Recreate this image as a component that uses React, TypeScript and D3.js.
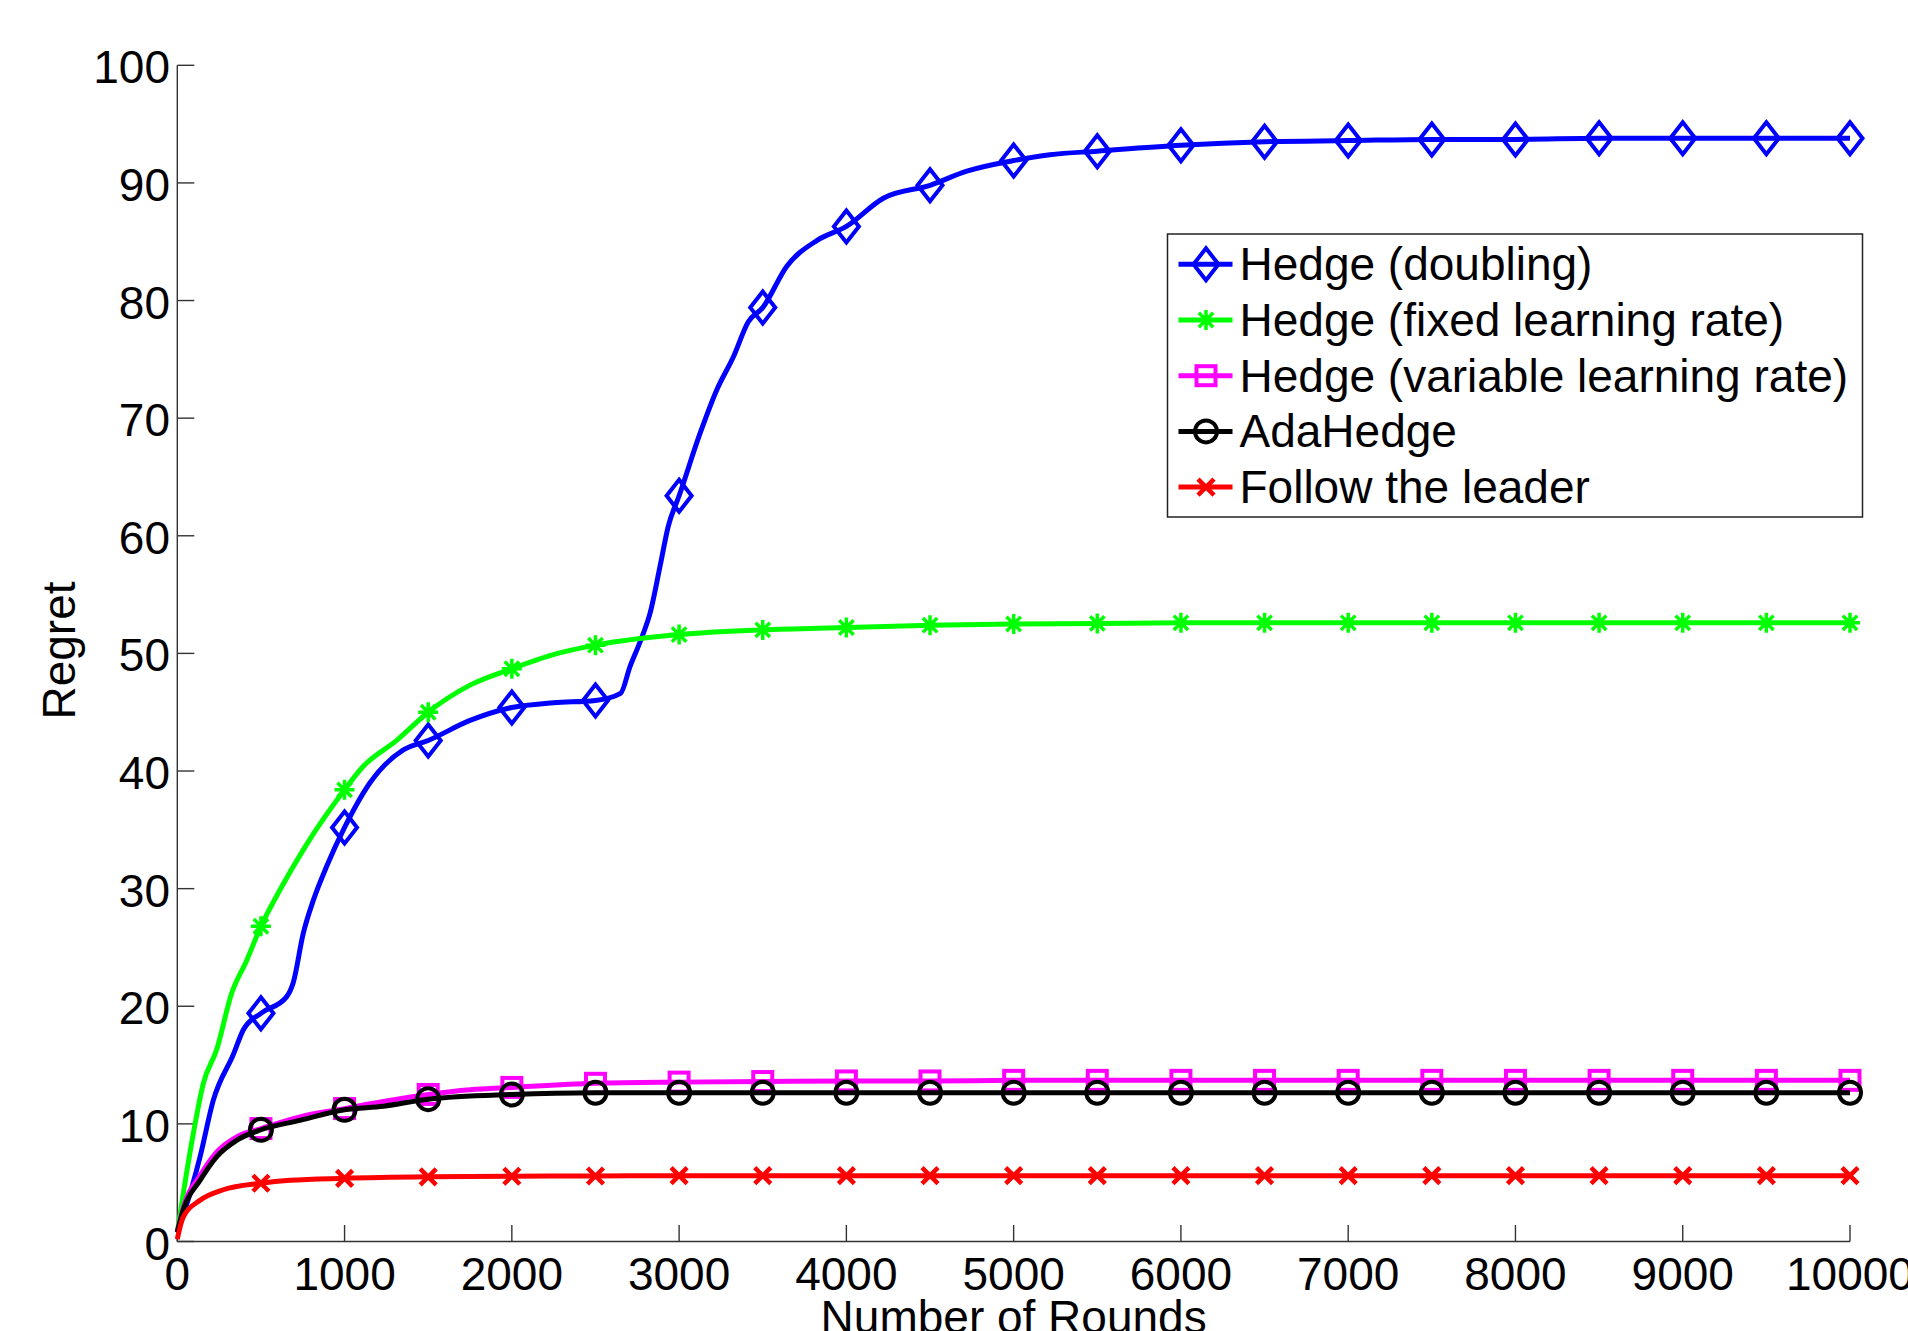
import React from "react";
import * as d3 from "d3";

// regret curves: [round, regret]
const doublingCurve: [number, number][] = [
  [0, 0.8], [46, 2.7], [136, 7.2], [215, 12.0], [335, 15.9], [395, 18.0], [500, 19.4],
  [653, 20.8], [693, 22.0], [753, 26.2], [813, 29.0], [893, 31.9], [1000, 35.2],
  [1152, 39.0], [1351, 41.8], [1500, 42.6], [1750, 44.3], [2000, 45.4], [2250, 45.8],
  [2500, 46.0], [2650, 46.6], [2707, 48.9], [2756, 50.6], [2786, 51.7], [2826, 53.4],
  [2886, 57.4], [2935, 60.8], [3000, 63.4], [3125, 68.7], [3225, 72.4], [3324, 75.2],
  [3414, 78.2], [3500, 79.4], [3643, 82.9], [3823, 85.1], [4000, 86.3], [4221, 88.7],
  [4500, 89.8], [4720, 91.0], [5000, 91.9], [5217, 92.4], [5500, 92.7], [6000, 93.2],
  [6500, 93.5], [7000, 93.6], [7500, 93.7], [8000, 93.7], [8500, 93.8], [9000, 93.8],
  [9500, 93.8], [10000, 93.8],
];
const fixedCurve: [number, number][] = [
  [0, 0.8], [36, 4.1], [96, 9.2], [155, 13.4], [235, 16.3], [325, 21.1], [415, 23.9],
  [500, 26.8], [614, 29.9], [753, 33.3], [1000, 38.4], [1112, 40.4], [1311, 42.6],
  [1500, 45.0], [1750, 47.3], [2000, 48.7], [2248, 49.9], [2500, 50.7], [3000, 51.6],
  [3500, 52.0], [4000, 52.2], [4500, 52.4], [5000, 52.5], [5500, 52.55], [6000, 52.6],
  [6500, 52.6], [7000, 52.6], [7500, 52.6], [8000, 52.6], [8500, 52.6], [9000, 52.6],
  [9500, 52.6], [10000, 52.6],
];
const variableCurve: [number, number][] = [
  [0, 0.8], [36, 2.9], [136, 5.6], [235, 7.6], [355, 8.9], [500, 9.6], [733, 10.6],
  [1000, 11.3], [1232, 11.9], [1500, 12.5], [1750, 12.9], [2000, 13.1], [2500, 13.45],
  [3000, 13.55], [3500, 13.6], [4000, 13.65], [4500, 13.65], [5000, 13.7], [5500, 13.7],
  [6000, 13.7], [6500, 13.7], [7000, 13.7], [7500, 13.7], [8000, 13.7], [8500, 13.7],
  [9000, 13.7], [9500, 13.7], [10000, 13.7],
];
const adaCurve: [number, number][] = [
  [0, 0.8], [36, 2.7], [136, 5.2], [235, 7.2], [355, 8.6], [500, 9.5], [733, 10.3],
  [1000, 11.2], [1232, 11.5], [1500, 12.1], [2000, 12.5], [2500, 12.65], [3000, 12.65],
  [3500, 12.65], [4000, 12.65], [4500, 12.65], [5000, 12.65], [5500, 12.65], [6000, 12.65],
  [6500, 12.65], [7000, 12.65], [7500, 12.65], [8000, 12.65], [8500, 12.65], [9000, 12.65],
  [9500, 12.65], [10000, 12.65],
];
const ftlCurve: [number, number][] = [
  [0, 0.2], [6, 0.6], [36, 2.1], [136, 3.5], [275, 4.4], [500, 4.95], [674, 5.2],
  [1000, 5.37], [1500, 5.5], [2000, 5.55], [2500, 5.57], [3000, 5.6], [3500, 5.6],
  [4000, 5.6], [4500, 5.6], [5000, 5.6], [5500, 5.6], [6000, 5.6], [6500, 5.6],
  [7000, 5.6], [7500, 5.6], [8000, 5.6], [8500, 5.6], [9000, 5.6], [9500, 5.6], [10000, 5.6],
];

const seriesNames = [
  "Hedge (doubling)",
  "Hedge (fixed learning rate)",
  "Hedge (variable learning rate)",
  "AdaHedge",
  "Follow the leader",
];
const seriesColors = ["#0000ff", "#00ff00", "#ff00ff", "#000000", "#ff0000"];
const seriesMarkers = ["diamond", "star", "square", "circle", "x"];
const seriesCurves = [doublingCurve, fixedCurve, variableCurve, adaCurve, ftlCurve];

const xTicks = d3.range(0, 10001, 1000);
const yTicks = d3.range(0, 101, 10);

const W = 1908, H = 1331;
const FONT = "'Liberation Sans', Arial, Helvetica, sans-serif";

function Marker({ kind, x, y, color }: { kind: string; x: number; y: number; color: string }) {
  const common = { fill: "none", stroke: color, strokeWidth: 4 };
  if (kind === "diamond")
    return <path {...common} d={`M${x},${y - 16}L${x + 12.5},${y}L${x},${y + 16}L${x - 12.5},${y}Z`} />;
  if (kind === "square")
    return <rect {...common} x={x - 9.5} y={y - 9.5} width={19} height={19} />;
  if (kind === "circle")
    return <circle {...common} cx={x} cy={y} r={11} />;
  if (kind === "x")
    return <path {...common} strokeWidth={4.5} d={`M${x - 8},${y - 8}L${x + 8},${y + 8}M${x - 8},${y + 8}L${x + 8},${y - 8}`} />;
  // asterisk
  const a = 10, b = 7.2;
  return (
    <path {...common} strokeWidth={3.5}
      d={`M${x - a},${y}L${x + a},${y}M${x},${y - a}L${x},${y + a}M${x - b},${y - b}L${x + b},${y + b}M${x - b},${y + b}L${x + b},${y - b}`} />
  );
}

export default function App() {
  const x = d3.scaleLinear().domain([0, 10000]).range([177.3, 1850]);
  const y = d3.scaleLinear().domain([0, 100]).range([1241.5, 65.3]);
  const line = d3.line<[number, number]>().x(d => x(d[0])).y(d => y(d[1])).curve(d3.curveMonotoneX);

  const legX = 1167.5, legY = 234, legW = 695, legH = 283;
  const rowY = (i: number) => 264.3 + i * 55.7;

  return (
    <div style={{ position: "absolute", left: 0, top: 0 }}>
      <svg width={W} height={H} style={{ display: "block", background: "#fff" }} fontFamily={FONT}>
        {/* axes */}
        <g stroke="#333" strokeWidth={1.4}>
          <line x1={x(0)} x2={x(0)} y1={y(100)} y2={y(0)} />
          <line x1={x(0)} x2={x(10000)} y1={y(0)} y2={y(0)} />
          {yTicks.map(t => <line key={"yt" + t} x1={x(0)} x2={x(0) + 17} y1={y(t)} y2={y(t)} />)}
          {xTicks.map(t => <line key={"xt" + t} x1={x(t)} x2={x(t)} y1={y(0)} y2={y(0) - 16.5} />)}
        </g>
        <g fontSize={46} fill="#000">
          {yTicks.map(t => (
            <text key={"yl" + t} x={170} y={y(t) + 18} textAnchor="end">{t}</text>
          ))}
          {xTicks.map(t => (
            <text key={"xl" + t} x={x(t)} y={1290} textAnchor="middle">{t}</text>
          ))}
        </g>
        <text x={(x(0) + x(10000)) / 2} y={1333} textAnchor="middle" fontSize={46}>Number of Rounds</text>
        <text transform={`translate(75,650.5) rotate(-90)`} textAnchor="middle" fontSize={46}>Regret</text>

        {/* series */}
        {seriesCurves.map((c, i) => (
          <g key={"s" + i}>
            <path d={line(c) || ""} fill="none" stroke={seriesColors[i]} strokeWidth={5} strokeLinejoin="round" />
            {c.filter(p => p[0] > 0 && p[0] % 500 === 0).map(p => (
              <Marker key={p[0]} kind={seriesMarkers[i]} x={x(p[0])} y={y(p[1])} color={seriesColors[i]} />
            ))}
          </g>
        ))}

        {/* legend */}
        <rect x={legX} y={legY} width={legW} height={legH} fill="#fff" stroke="#222" strokeWidth={1.5} />
        {seriesNames.map((name, i) => (
          <g key={"l" + i}>
            <line x1={1178.5} x2={1232.5} y1={rowY(i)} y2={rowY(i)} stroke={seriesColors[i]} strokeWidth={5} />
            <Marker kind={seriesMarkers[i]} x={1206} y={rowY(i)} color={seriesColors[i]} />
            <text x={1239.5} y={rowY(i) + 16} fontSize={46} fill="#000">{name}</text>
          </g>
        ))}
      </svg>
    </div>
  );
}
